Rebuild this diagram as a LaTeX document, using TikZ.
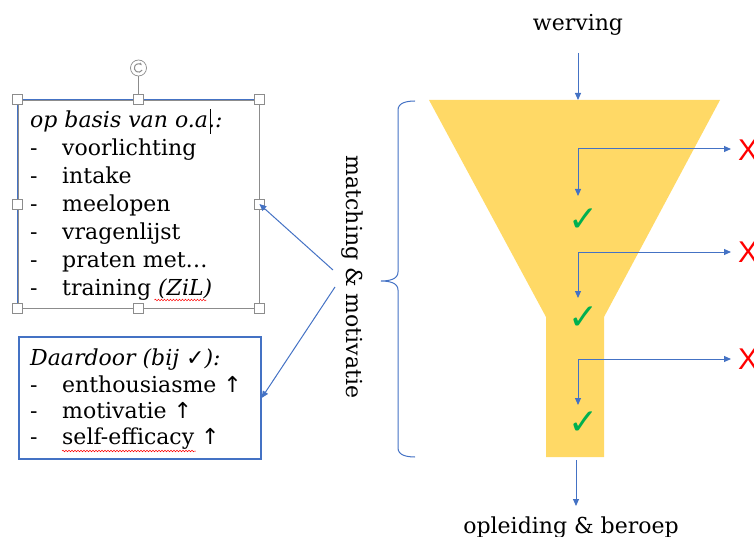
\documentclass[tikz,border=0pt]{standalone}
\usepackage{fontspec}
\setmainfont{DejaVu Serif}
\newfontfamily\symfont{DejaVu Sans}
\newfontfamily\xfont{Liberation Sans}
\usetikzlibrary{arrows.meta,decorations.pathmorphing}
\definecolor{lblue}{HTML}{4472C4}
\definecolor{gold}{HTML}{FFD966}
\definecolor{okgreen}{HTML}{00B050}
\definecolor{nored}{HTML}{FF0000}
\definecolor{hgray}{HTML}{8C8C8C}
\tikzset{
  conn/.style={draw=lblue, line width=1pt},
  arr/.style={conn, -{Triangle[length=7pt,width=6pt]}},
  barr/.style={conn, {Triangle[length=7pt,width=6pt]}-{Triangle[length=7pt,width=6pt]}},
  txt/.style={font=\fontsize{22}{24}\selectfont, inner sep=0pt, anchor=base west},
  ctxt/.style={font=\fontsize{22}{24}\selectfont, inner sep=0pt, anchor=base},
  handle/.style={draw=hgray, fill=white, line width=0.6pt, minimum size=10pt, inner sep=0pt},
  chk/.style={text=okgreen, font=\symfont\fontsize{36}{38}\selectfont\bfseries, inner sep=0pt},
  xmark/.style={text=nored, font=\xfont\fontsize{30}{32}\selectfont, inner sep=0pt, anchor=west},
  squig/.style={draw=nored, line width=0.5pt, decorate, decoration={snake, amplitude=0.8pt, segment length=3pt}}
}
\begin{document}
\begin{tikzpicture}[x=1pt,y=-1pt]
\useasboundingbox (0,0) rectangle (754,537);
% funnel
\fill[gold] (429,100) -- (720,100) -- (604,317) -- (604,457) -- (546,457) -- (546,317) -- cycle;
\coordinate (ftop) at (578,100);
\coordinate (fbot) at (576,460);
% top / bottom labels
\node[ctxt] (werving) at (578,31) {werving};
\node[ctxt] (opl) at (571,533) {opleiding \& beroep};
\draw[arr] (578,53) -- (ftop);
\draw[arr] (fbot) -- (576,506);
% checks
\node[chk] (c1) at (584,220) {✓};
\node[chk] (c2) at (584,318) {✓};
\node[chk] (c3) at (584,423) {✓};
% red X
\node[xmark] (x1) at (738,150) {X};
\node[xmark] (x2) at (738,252) {X};
\node[xmark] (x3) at (738,359) {X};
% feedback arrows
\coordinate (k1) at (578,149); \coordinate (d1) at (578,196); \coordinate (e1) at (731,149);
\coordinate (k2) at (578,252); \coordinate (d2) at (578,298); \coordinate (e2) at (731,252);
\coordinate (k3) at (578,359); \coordinate (d3) at (578,405); \coordinate (e3) at (731,359);
\draw[barr] (e1) -- (k1) -- (d1);
\draw[barr] (e2) -- (k2) -- (d2);
\draw[barr] (e3) -- (k3) -- (d3);
% brace
\draw[conn] (415,101) to[out=180,in=90] (398,110) -- (398,272) to[out=-90,in=0] (381,281)
  to[out=0,in=90] (398,290) -- (398,448) to[out=-90,in=180] (415,457);
\node[font=\fontsize{22}{24}\selectfont, rotate=-90, inner sep=0pt] (mm) at (352,277) {matching \& motivatie};
% box 1
\node[draw=hgray, line width=0.8pt, minimum width=241pt, minimum height=208pt, inner sep=0pt] (box1) at (138.5,204) {};
\draw[draw=lblue, line width=1.2pt] (box1.south west) -- (box1.north west) -- (box1.north east);
\node[txt] (h1) at (30,128) {\itshape op basis van o.a.:};
\draw[black, line width=1.2pt] ([xshift=-12pt]h1.east |- 0,109) -- ([xshift=-12pt]h1.east |- 0,134);
\foreach \t [count=\i] in {voorlichting,intake,meelopen,vragenlijst,praten met…}{
  \node[txt] (d1\i) at (30,128+27.8*\i) {-};
  \node[txt] (l1\i) at (62,128+27.8*\i) {\t};
}
\node[txt] (d16) at (30,295) {-};
\node[txt] (l16) at (62,295) {training \textit{(ZiL)}};
% handles
\draw[hgray, line width=0.6pt] (138.5,100) -- (138.5,76);
\node[draw=hgray, fill=white, circle, minimum size=16pt, inner sep=0pt, line width=0.7pt] (rot) at (138.5,68) {};
\draw[hgray, line width=1pt, -{Stealth[length=3pt]}] (rot.center) ++(30:4.2) arc[start angle=30, end angle=320, radius=4.2];
\foreach \a in {north west,north,north east,west,east,south west,south,south east}{
  \node[handle] at (box1.\a) {};
}
% box 2
\node[draw=lblue, line width=1.2pt, minimum width=242pt, minimum height=122pt, inner sep=0pt] (box2) at (140,398) {};
\node[txt] (h2) at (30,365) {\itshape Daardoor (bij {\symfont\upshape ✓}):};
\node[txt] (d21) at (30,392) {-};
\node[txt] (l21) at (62,392) {enthousiasme {\symfont↑}};
\node[txt] (d22) at (30,418) {-};
\node[txt] (l22) at (62,418) {motivatie {\symfont↑}};
\node[txt] (d23) at (30,444) {-};
\node[txt] (l23) at (62,444) {self-efficacy {\symfont↑}};
% spelling underlines
\draw[squig] ([xshift=-58pt]l16.east |- 0,300) -- ([xshift=-6pt]l16.east |- 0,300);
\draw[squig] (62,451) -- ([xshift=-24pt]l23.east |- 0,451);
% connectors from brace label
\coordinate (m1) at (333,270);
\coordinate (m2) at (335,287);
\draw[arr] (m1) -- (box1.east);
\draw[arr] (m2) -- (box2.east);
\end{tikzpicture}
\end{document}
